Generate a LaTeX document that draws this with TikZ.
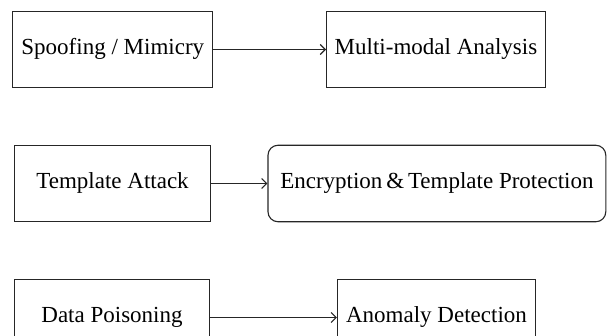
\documentclass[tikz,border=0pt]{standalone}
\usepackage{fontspec}
\setmainfont{Liberation Serif}
\usetikzlibrary{arrows.meta}
\begin{document}
\begin{tikzpicture}[x=1pt,y=-1pt,
  box/.style={draw=black!85, line width=1.1pt, inner sep=0pt, minimum height=76.5pt,
    font=\fontsize{23}{27}\selectfont, text height=12pt, text depth=3pt, align=center},
  rbox/.style={box, rounded corners=10pt},
  conn/.style={draw=black!85, line width=1.1pt, -{Straight Barb[length=5pt,width=10pt,line width=1.1pt]}}]
\useasboundingbox (0,0) rectangle (610,335);
\clip (0,0) rectangle (610,335);
\node[box, minimum width=199.8pt] (b1) at (112.8,49.5) {Spoofing / Mimicry};
\node[box, minimum width=218.9pt] (b2) at (436,49.5) {Multi-modal Analysis};
\node[box, minimum width=196.3pt] (b3) at (112.55,183.5) {Template Attack};
\node[rbox, minimum width=337.8pt] (b4) at (436.9,183.5) {Encryption\,\&\,Template Protection};
\node[box, minimum width=195pt] (b5) at (112,317.5) {Data Poisoning};
\node[box, minimum width=198.2pt] (b6) at (436.5,317.5) {Anomaly Detection};
\draw[conn] (b1) -- (b2);
\draw[conn] (b3) -- (b4);
\draw[conn] (b5) -- (b6);
\end{tikzpicture}
\end{document}
